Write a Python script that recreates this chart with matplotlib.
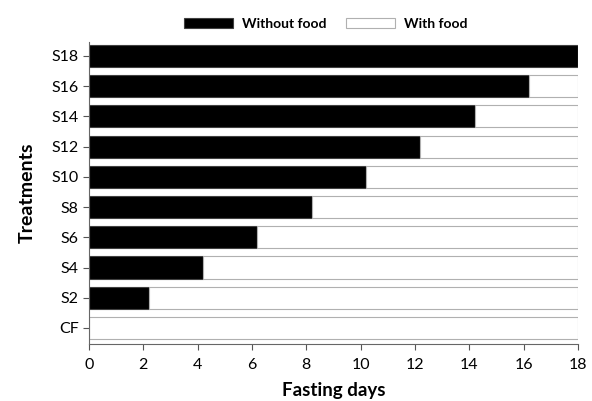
import matplotlib
matplotlib.use("Agg")
import matplotlib.pyplot as plt
import numpy as np

plt.rcParams['font.family'] = ['Lato', 'DejaVu Sans']

# treatments, bottom to top
treatments = ['CF', 'S2', 'S4', 'S6', 'S8', 'S10', 'S12', 'S14', 'S16', 'S18']
without_food = [0, 2.2, 4.2, 6.2, 8.2, 10.2, 12.2, 14.2, 16.2, 18]
with_food = [18 - v for v in without_food]

fig = plt.figure(figsize=(5.92, 4.01), dpi=100)
ax = fig.add_axes([0.1503, 0.1421, 0.8261, 0.7532])

y = np.arange(len(treatments))
ax.barh(y, without_food, height=0.73, color='black', edgecolor='#404040',
        linewidth=0.8, label='Without food')
ax.barh(y, with_food, left=without_food, height=0.73, color='white',
        edgecolor='#b0b0b0', linewidth=0.8, label='With food')

ax.set_xlim(0, 18)
ax.set_ylim(-0.53, 9.46)
ax.set_xticks(np.arange(0, 19, 2))
ax.set_yticks(y)
ax.set_yticklabels(treatments)
ax.tick_params(axis='both', labelsize=11.5, color='#555555', length=4)
ax.tick_params(axis='x', pad=6)

for s in ['top', 'right']:
    ax.spines[s].set_visible(False)
for s in ['left', 'bottom']:
    ax.spines[s].set_color('#666666')

ax.set_xlabel('Fasting days', fontsize=13.5, fontweight='bold', labelpad=7)
ax.set_ylabel('Treatments', fontsize=14, fontweight='bold', labelpad=11)

ax.legend(loc='center', bbox_to_anchor=(0.484, 1.06), ncol=2, frameon=False,
          prop={'weight': 'bold', 'size': 10}, handlelength=3.5, handleheight=0.75,
          handletextpad=0.65, columnspacing=1.45)

fig.savefig('out.png', dpi=100)
